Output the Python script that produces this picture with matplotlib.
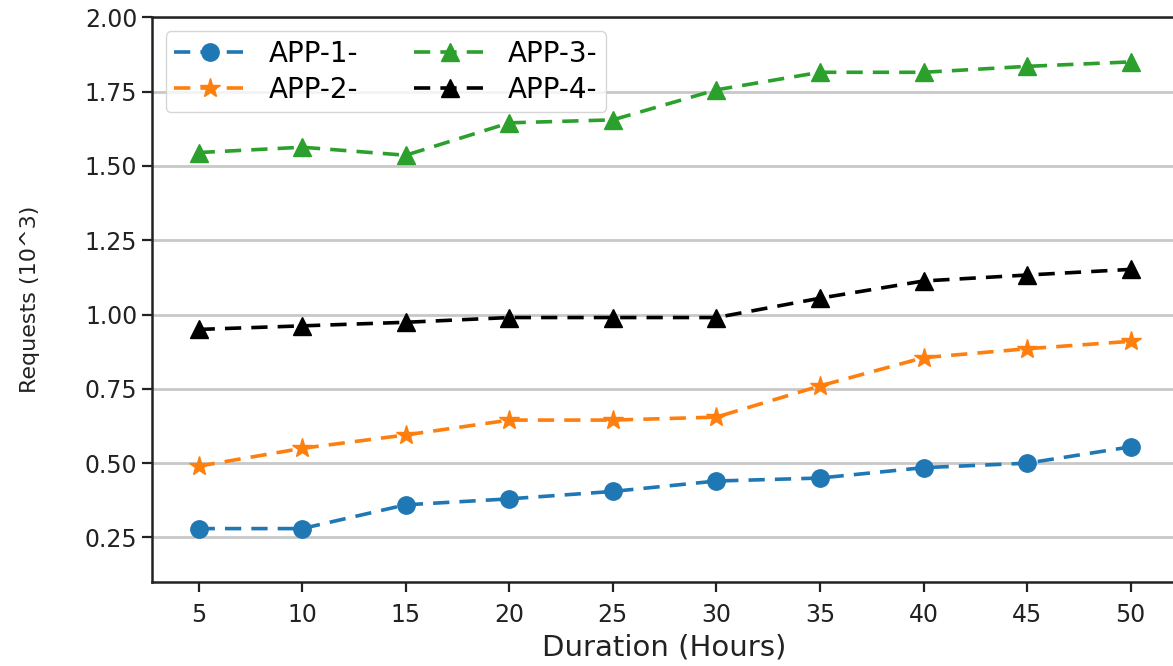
import matplotlib
matplotlib.use("Agg")
import matplotlib.pyplot as plt

hours = [5, 10, 15, 20, 25, 30, 35, 40, 45, 50]
app1 = [0.28, 0.28, 0.36, 0.38, 0.405, 0.44, 0.45, 0.485, 0.50, 0.555]
app2 = [0.49, 0.55, 0.595, 0.645, 0.645, 0.655, 0.76, 0.855, 0.885, 0.91]
app3 = [1.545, 1.563, 1.536, 1.645, 1.655, 1.756, 1.815, 1.815, 1.835, 1.85]
app4 = [0.95, 0.962, 0.974, 0.99, 0.99, 0.99, 1.055, 1.113, 1.133, 1.152]
labels = ["APP-1-", "APP-2-", "APP-3-", "APP-4-"]
colors = ["#1f77b4", "#ff7f0e", "#2ca02c", "black"]
markers = ["o", "*", "^", "^"]

fig = plt.figure(figsize=(11.73, 6.66), dpi=100)
ax = fig.add_axes([0.1296, 0.126, 0.874, 0.848])

for ys, lab, c, m in zip([app1, app2, app3, app4], labels, colors, markers):
    ms = 15 if m == "*" else 12.5
    ax.plot(hours, ys, linestyle="--", marker=m, color=c, label=lab,
            linewidth=2.6, markersize=ms, dashes=(4.5, 2.8))

ax.set_ylim(0.1, 2.0)
ax.set_xlim(2.75, 52.25)
ax.set_xticks(hours)
ax.set_yticks([0.25, 0.5, 0.75, 1.0, 1.25, 1.5, 1.75, 2.0])
ax.yaxis.grid(True, color="#c8c8c8", linewidth=2)
ax.set_axisbelow(True)
ax.tick_params(labelsize=17, width=1.6, length=7, colors="#222222")
ax.tick_params(axis="x", pad=8)
for s in ax.spines.values():
    s.set_linewidth(1.8)
    s.set_color("#222222")
ax.set_xlabel("Duration (Hours)", fontsize=21, color="#222222", labelpad=5)
ax.set_ylabel("Requests (10^3)", fontsize=16, color="#222222", labelpad=32)
ax.legend(loc="upper left", ncol=2, fontsize=20, framealpha=0.8,
          handlelength=2.6, columnspacing=2.0, borderaxespad=0.5,
          labelspacing=0.3, borderpad=0.3)

fig.savefig("out.png", dpi=100)
